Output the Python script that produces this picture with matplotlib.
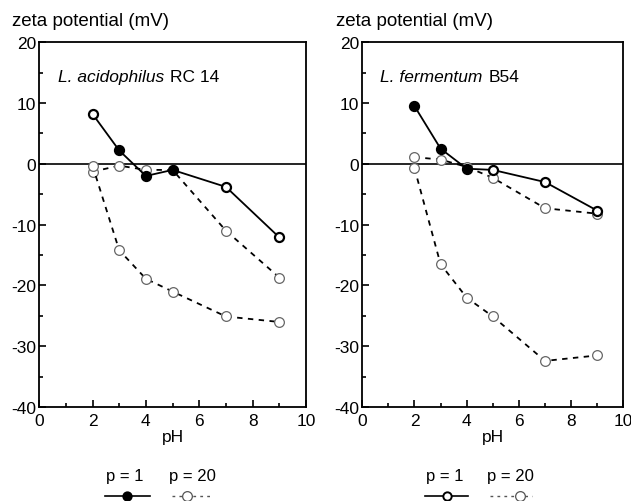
import matplotlib
matplotlib.use("Agg")
import matplotlib.pyplot as plt
from matplotlib.lines import Line2D
from matplotlib.ticker import MultipleLocator

plt.rcParams['font.family'] = ['Liberation Sans', 'DejaVu Sans']
plt.rcParams['font.size'] = 12.5

ph = [2, 3, 4, 5, 7, 9]

# L. acidophilus RC 14
aci_p1 = [8.2, 2.2, -2.0, -1.0, -3.8, -12.1]
aci_p1_filled = [False, True, True, True, False, False]
aci_p20a = [-1.3, -0.3, -1.0, -1.0, -11.0, -18.7]
aci_p20b = [-0.3, -14.2, -18.9, -21.0, -25.1, -26.0]

# L. fermentum B54
fer_p1 = [9.5, 2.5, -0.8, -1.0, -3.0, -7.7]
fer_p1_filled = [True, True, True, False, False, False]
fer_p20a = [1.1, 0.7, -0.5, -2.3, -7.3, -8.2]
fer_p20b = [-0.7, -16.5, -22.0, -25.1, -32.4, -31.5]

panels = [
    ("L. acidophilus", "RC 14", aci_p1, aci_p1_filled, aci_p20a, aci_p20b),
    ("L. fermentum", "B54", fer_p1, fer_p1_filled, fer_p20a, fer_p20b),
]

fig = plt.figure(figsize=(6.31, 5.02), dpi=100)
axes = [fig.add_axes([0.062, 0.187, 0.423, 0.727]),
        fig.add_axes([0.574, 0.187, 0.414, 0.727])]

for ax, (species, strain, p1, filled, p20a, p20b) in zip(axes, panels):
    ax.axhline(0, color='black', lw=1.2)
    for ys in (p20a, p20b):
        ax.plot(ph, ys, color='black', ls=(0, (3, 3)), lw=1.3, marker='o', ms=7,
                mfc='white', mec='#666666', mew=0.9, zorder=3)
    ax.plot(ph, p1, color='black', lw=1.3, zorder=4)
    for x, y, f in zip(ph, p1, filled):
        ax.plot(x, y, marker='o', ms=6.5, mfc='black' if f else 'white',
                mec='black', mew=1.6, zorder=5)

    ax.set_xlim(0, 10)
    ax.set_ylim(-40, 20)
    ax.xaxis.set_major_locator(MultipleLocator(2))
    ax.xaxis.set_minor_locator(MultipleLocator(1))
    ax.yaxis.set_major_locator(MultipleLocator(10))
    ax.yaxis.set_minor_locator(MultipleLocator(5))
    ax.tick_params(which='both', direction='in', top=False, right=False,
                   width=1.2, labelsize=12.5)
    ax.tick_params(which='major', length=5, pad=2)
    ax.tick_params(axis='x', which='major', pad=4)
    ax.tick_params(which='minor', length=3)
    ax.set_yticks([-40, -30, -20, -10, 0, 10, 20])
    ax.set_yticklabels(['-40', '-30', '-20', '-10', '0', '10', '20'])
    for s in ax.spines.values():
        s.set_linewidth(1.3)
    ax.set_xlabel('pH', fontsize=12.5, labelpad=1)

    t = ax.text(0.07, 0.905, species, transform=ax.transAxes, style='italic',
                fontsize=12.5, va='center', ha='left')
    ax.annotate(strain, xy=(1, 0.5), xycoords=t, xytext=(4, 0),
                textcoords='offset points', va='center', ha='left', fontsize=12.5)
    ax.text(-0.1, 1.035, 'zeta potential (mV)', transform=ax.transAxes,
            fontsize=13.5, va='bottom', ha='left')

# legend keys below each panel
legend_keys = [
    (125, 105, 150, 127, True, 192, 172, 213, 187),
    (445, 425, 468, 447, False, 510, 490, 532, 520),
]
W, H = 631.0, 502.0
ty = 1 - 477 / H
ly = 1 - 497 / H
for cx1, a1, b1, m1, fill1, cx2, a2, b2, m2 in legend_keys:
    fig.text(cx1 / W, ty, 'p = 1', ha='center', va='center', fontsize=12)
    fig.text(cx2 / W, ty, 'p = 20', ha='center', va='center', fontsize=12)
    fig.add_artist(Line2D([a1 / W, b1 / W], [ly, ly], color='black', lw=1.2))
    fig.add_artist(Line2D([m1 / W], [ly], marker='o', ms=6,
                          mfc='black' if fill1 else 'white', mec='black', mew=1.4))
    fig.add_artist(Line2D([a2 / W, b2 / W], [ly, ly], color='#555555', lw=1.0,
                          ls=(0, (2, 3))))
    fig.add_artist(Line2D([m2 / W], [ly], marker='o', ms=7, mfc='white',
                          mec='#555555', mew=0.9))

fig.savefig('out.png', dpi=100)
